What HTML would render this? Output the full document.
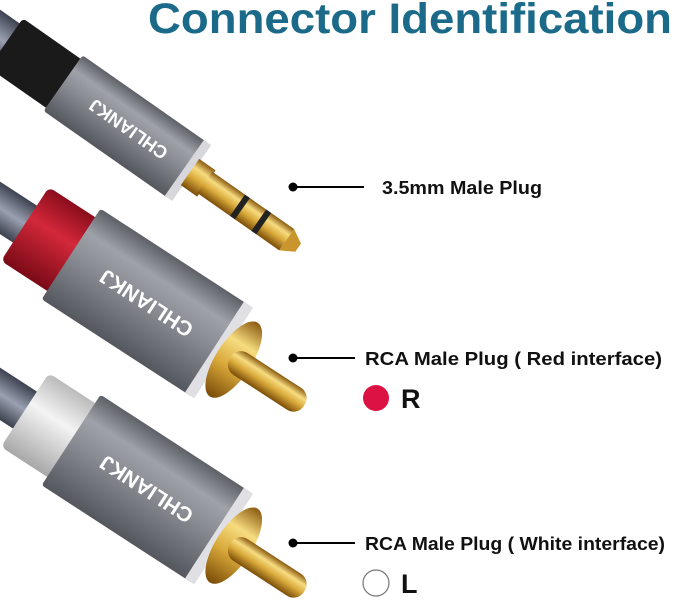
<!DOCTYPE html>
<html><head><style>
html,body{margin:0;background:#fff;width:679px;height:600px;overflow:hidden;font-family:"Liberation Sans",sans-serif}
svg{display:block;overflow:hidden}
</style></head><body>
<svg width="679" height="600" viewBox="0 0 679 600" xmlns="http://www.w3.org/2000/svg">
<defs>
<linearGradient id="gm" x1="0" y1="0" x2="0" y2="1">
<stop offset="0" stop-color="#5e6068"/><stop offset="0.25" stop-color="#a0a2aa"/><stop offset="0.5" stop-color="#8a8c94"/><stop offset="1" stop-color="#55575e"/></linearGradient>
<linearGradient id="gg" x1="0" y1="0" x2="0" y2="1">
<stop offset="0" stop-color="#8a5a10"/><stop offset="0.3" stop-color="#f7dc80"/><stop offset="0.6" stop-color="#d9a93a"/><stop offset="1" stop-color="#7a4c08"/></linearGradient>
<linearGradient id="gr" x1="0" y1="0" x2="0" y2="1">
<stop offset="0" stop-color="#8a0d1c"/><stop offset="0.4" stop-color="#d3283a"/><stop offset="1" stop-color="#7a0a16"/></linearGradient>
<linearGradient id="gw" x1="0" y1="0" x2="0" y2="1">
<stop offset="0" stop-color="#bbbbbb"/><stop offset="0.4" stop-color="#f4f4f4"/><stop offset="1" stop-color="#a8a8a8"/></linearGradient>
<linearGradient id="gc" x1="0" y1="0" x2="0" y2="1">
<stop offset="0" stop-color="#3c4250"/><stop offset="0.5" stop-color="#9aa0b0"/><stop offset="1" stop-color="#3a404c"/></linearGradient>
</defs>
<g transform="translate(190,172) rotate(35)">
<rect x="-330" y="-24" width="130" height="48" fill="url(#gc)"/>
<rect x="-225" y="-30" width="80" height="60" rx="4" fill="#1a1a1a"/>
<rect x="-155" y="-34" width="155" height="68" rx="3" fill="url(#gm)"/>
<rect x="-7" y="-34" width="9" height="68" fill="#d8d8dc"/>
<text x="75" y="6" fill="#fff" font-size="18" text-anchor="middle" font-weight="bold" transform="rotate(180)">CHLIANKJ</text>
<rect x="0" y="-16" width="20" height="32" fill="url(#gg)"/>
<rect x="18" y="-13" width="100" height="26" fill="url(#gg)"/>
<rect x="58" y="-13" width="6" height="26" fill="#222"/>
<rect x="84" y="-13" width="6" height="26" fill="#222"/>
<path d="M118,-13 L132,-5 L132,5 L118,13Z" fill="#c8962c"/>
</g>
<g transform="translate(222,352) rotate(33)">
<rect x="-360" y="-22" width="140" height="44" fill="url(#gc)"/>
<rect x="-235" y="-44" width="62" height="88" rx="6" fill="url(#gr)"/>
<rect x="-180" y="-54" width="180" height="108" rx="3" fill="url(#gm)"/>
<rect x="-9" y="-54" width="11" height="108" fill="#e0e0e4"/>
<text x="90" y="7" fill="#fff" font-size="21" text-anchor="middle" font-weight="bold" transform="rotate(180)">CHLIANKJ</text>
<ellipse cx="14" cy="0" rx="18" ry="44" fill="url(#gg)"/>
<rect x="10" y="-13" width="88" height="26" rx="12" fill="url(#gg)"/>
</g>
<g transform="translate(222,538) rotate(33)">
<rect x="-360" y="-22" width="140" height="44" fill="url(#gc)"/>
<rect x="-235" y="-44" width="62" height="88" rx="6" fill="url(#gw)"/>
<rect x="-180" y="-54" width="180" height="108" rx="3" fill="url(#gm)"/>
<rect x="-9" y="-54" width="11" height="108" fill="#e0e0e4"/>
<text x="90" y="7" fill="#fff" font-size="21" text-anchor="middle" font-weight="bold" transform="rotate(180)">CHLIANKJ</text>
<ellipse cx="14" cy="0" rx="18" ry="44" fill="url(#gg)"/>
<rect x="10" y="-13" width="88" height="26" rx="12" fill="url(#gg)"/>
</g>
<text x="148" y="33" fill="#1b6a89" font-size="43" font-weight="bold" textLength="524" lengthAdjust="spacingAndGlyphs">Connector Identification</text>
<circle cx="293" cy="187" r="4.5" fill="#000"/><line x1="293" y1="187" x2="364" y2="187" stroke="#000" stroke-width="2"/>
<text x="382" y="194" font-size="18" font-weight="bold" fill="#111" textLength="160" lengthAdjust="spacingAndGlyphs">3.5mm Male Plug</text>
<circle cx="293" cy="358" r="4.5" fill="#000"/><line x1="293" y1="358" x2="355" y2="358" stroke="#000" stroke-width="2"/>
<text x="365" y="365" font-size="18" font-weight="bold" fill="#111" textLength="297" lengthAdjust="spacingAndGlyphs">RCA Male Plug ( Red interface)</text>
<circle cx="376" cy="398" r="13" fill="#dc1144"/>
<text x="401" y="408" font-size="27" font-weight="bold" fill="#111">R</text>
<circle cx="293" cy="543" r="4.5" fill="#000"/><line x1="293" y1="543" x2="355" y2="543" stroke="#000" stroke-width="2"/>
<text x="365" y="550" font-size="18" font-weight="bold" fill="#111" textLength="300" lengthAdjust="spacingAndGlyphs">RCA Male Plug ( White interface)</text>
<circle cx="376" cy="583" r="13" fill="#fff" stroke="#777" stroke-width="1.2"/>
<text x="401" y="593" font-size="27" font-weight="bold" fill="#111">L</text>
</svg>
</body></html>
